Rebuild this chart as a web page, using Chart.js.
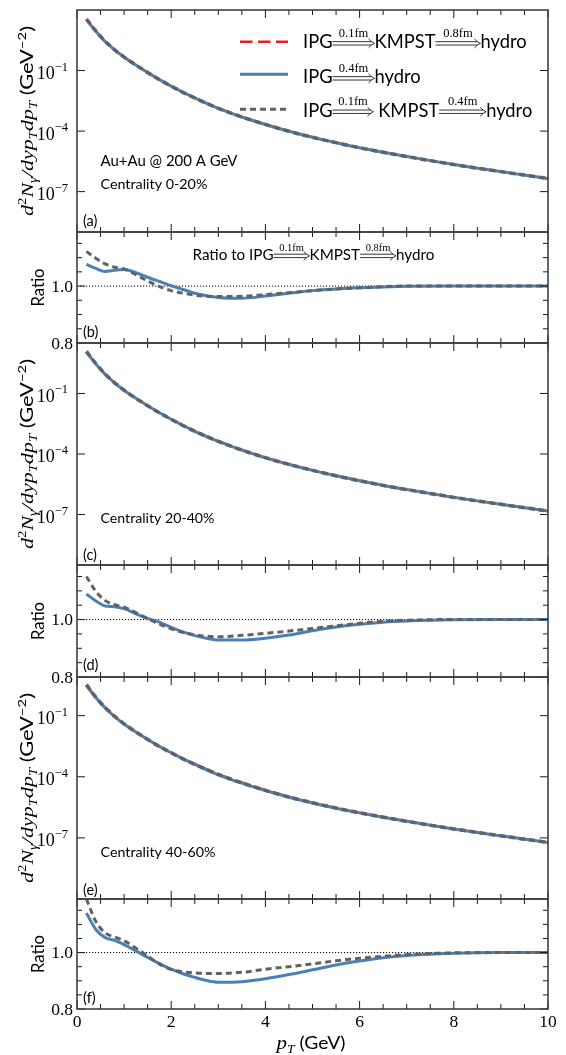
<!DOCTYPE html>
<html>
<head>
<meta charset="utf-8">
<script src="https://cdn.jsdelivr.net/npm/chart.js@4"></script>
<style>
  body { margin: 0; background: #fff; width: 566px; height: 1055px; position: relative; overflow: hidden; }
  canvas { position: absolute; left: 0; top: 0; }
</style>
</head>
<body>
<canvas id="pa" width="566" height="1055"></canvas>
<canvas id="pb" width="566" height="1055"></canvas>
<canvas id="pc" width="566" height="1055"></canvas>
<canvas id="pd" width="566" height="1055"></canvas>
<canvas id="pe" width="566" height="1055"></canvas>
<canvas id="pf" width="566" height="1055"></canvas>
<script>
// pT grid (GeV)
const pt = [0.2, 0.4, 0.6, 0.8, 1.0, 1.25, 1.5, 1.75, 2.0, 2.25, 2.5, 2.75, 3.0, 3.5, 4.0, 4.5, 5.0, 5.5, 6.0, 6.5, 7.0, 8.0, 9.0, 10.0];

// IPG -> KMPST(0.8fm) -> hydro spectra, d2N/dypTdpT (GeV^-2)
const spec020 = [3.2e1, 8.3, 2.6, 1.0, 4.4e-1, 1.8e-1, 7.8e-2, 3.5e-2, 1.7e-2, 8.5e-3, 4.5e-3, 2.45e-3, 1.4e-3, 5.2e-4, 2.2e-4, 1.0e-4, 5.0e-5, 2.7e-5, 1.5e-5, 8.9e-6, 5.5e-6, 2.2e-6, 9.8e-7, 4.5e-7];
const spec2040 = [1.05e1, 2.75, 8.5e-1, 3.2e-1, 1.38e-1, 5.6e-2, 2.45e-2, 1.12e-2, 5.4e-3, 2.7e-3, 1.4e-3, 7.8e-4, 4.5e-4, 1.66e-4, 6.9e-5, 3.2e-5, 1.6e-5, 8.5e-6, 4.8e-6, 2.8e-6, 1.74e-6, 7.1e-7, 3.2e-7, 1.48e-7];
const spec4060 = [2.8, 7.2e-1, 2.3e-1, 8.7e-2, 3.8e-2, 1.55e-2, 6.9e-3, 3.2e-3, 1.6e-3, 8.1e-4, 4.4e-4, 2.45e-4, 1.4e-4, 5.4e-5, 2.3e-5, 1.07e-5, 5.5e-6, 3.0e-6, 1.74e-6, 1.05e-6, 6.6e-7, 2.75e-7, 1.26e-7, 6.0e-8];

// ratios to IPG -> KMPST(0.8fm) -> hydro
const ratioHydro020 = [1.076, 1.062, 1.051, 1.056, 1.058, 1.047, 1.031, 1.016, 1.001, 0.988, 0.975, 0.966, 0.960, 0.957, 0.965, 0.975, 0.984, 0.990, 0.994, 0.997, 0.999, 1.0, 1.0, 1.0];
const ratioK04_020 = [1.122, 1.098, 1.078, 1.066, 1.060, 1.040, 1.018, 0.998, 0.984, 0.975, 0.968, 0.964, 0.963, 0.964, 0.970, 0.977, 0.984, 0.990, 0.994, 0.998, 1.0, 1.0, 1.0, 1.0];
const ratioHydro2040 = [1.089, 1.065, 1.047, 1.045, 1.038, 1.020, 1.004, 0.991, 0.973, 0.957, 0.944, 0.935, 0.929, 0.929, 0.935, 0.946, 0.961, 0.974, 0.984, 0.991, 0.995, 0.999, 1.0, 1.0];
const ratioK04_2040 = [1.150, 1.098, 1.066, 1.052, 1.043, 1.024, 1.003, 0.984, 0.968, 0.955, 0.947, 0.942, 0.940, 0.945, 0.952, 0.960, 0.969, 0.978, 0.987, 0.994, 0.998, 1.0, 1.0, 1.0];
const ratioHydro4060 = [1.140, 1.082, 1.053, 1.043, 1.028, 1.006, 0.983, 0.961, 0.941, 0.925, 0.912, 0.901, 0.895, 0.897, 0.907, 0.922, 0.939, 0.956, 0.970, 0.982, 0.990, 0.998, 1.0, 1.0];
const ratioK04_4060 = [1.190, 1.110, 1.070, 1.055, 1.042, 1.016, 0.988, 0.959, 0.940, 0.932, 0.928, 0.926, 0.926, 0.930, 0.941, 0.950, 0.960, 0.971, 0.980, 0.987, 0.993, 0.999, 1.0, 1.0];

// ticks
const xMajor = [0, 2, 4, 6, 8, 10];
const xMinor = [0.5, 1, 1.5, 2.5, 3, 3.5, 4.5, 5, 5.5, 6.5, 7, 7.5, 8.5, 9, 9.5];
const logTicks = [1e-7, 1e-4, 1e-1];
const logTickExp = ['\u22127', '\u22124', '\u22121'];
const ratioMajor = [0.8, 1.0];
const ratioMajorLabels = ['0.8', '1.0'];
const ratioMinor = [0.85, 0.9, 0.95, 1.05, 1.1, 1.15];

const W = 566, H = 1055;
const RED = '#ec1c24', BLUE = '#4a80b6', GRAY = '#626262';
const SANS = 'Lato, "DejaVu Sans", sans-serif';
const SERIF = '"Liberation Serif", "DejaVu Serif", serif';

const panels = [
  { id: 'pa', kind: 'spec', top: 10, bottom: 232, min: 1e-9, max: 1e2, spec: spec020, r1: ratioHydro020, r2: ratioK04_020, tag: '(a)', tagY: 226,
    notes: [['Au+Au @ 200 A GeV', 166, 137], ['Centrality 0-20%', 188.5, 107]] },
  { id: 'pb', kind: 'ratio', top: 232, bottom: 343, min: 0.8, max: 1.19, r1: ratioHydro020, r2: ratioK04_020, tag: '(b)', tagY: 336.5, ratioNote: true },
  { id: 'pc', kind: 'spec', top: 343, bottom: 565, min: 3.16e-10, max: 31.6, spec: spec2040, r1: ratioHydro2040, r2: ratioK04_2040, tag: '(c)', tagY: 560,
    notes: [['Centrality 20-40%', 522.7, 114]] },
  { id: 'pd', kind: 'ratio', top: 565, bottom: 677, min: 0.8, max: 1.19, r1: ratioHydro2040, r2: ratioK04_2040, tag: '(d)', tagY: 670 },
  { id: 'pe', kind: 'spec', top: 677, bottom: 899, min: 1e-10, max: 7.9, spec: spec4060, r1: ratioHydro4060, r2: ratioK04_4060, tag: '(e)', tagY: 895,
    notes: [['Centrality 40-60%', 856.5, 115]] },
  { id: 'pf', kind: 'ratio', top: 899, bottom: 1009, min: 0.8, max: 1.19, r1: ratioHydro4060, r2: ratioK04_4060, tag: '(f)', tagY: 1003.3, last: true }
];

function fitSize(ctx, text, family, width) {
  ctx.font = '100px ' + family;
  return 100 * width / ctx.measureText(text).width;
}

// draw pieces of text one after the other; optional rotation, stretched along the text to a length
function rich(ctx, parts, x, y, rot, center, fitLen) {
  ctx.save();
  ctx.translate(x, y);
  if (rot) ctx.rotate(-Math.PI / 2);
  let total = 0;
  for (const p of parts) { ctx.font = p.f; p.w = ctx.measureText(p.t).width; total += p.w; }
  if (fitLen) ctx.scale(fitLen / total, 1);
  let cx = center ? -total / 2 : 0;
  ctx.textAlign = 'left';
  ctx.textBaseline = 'alphabetic';
  ctx.fillStyle = '#000';
  for (const p of parts) { ctx.font = p.f; ctx.fillText(p.t, cx, p.dy || 0); cx += p.w; }
  ctx.restore();
  return total;
}

function dblArrow(ctx, x0, x1, y) {
  ctx.save();
  ctx.strokeStyle = '#000';
  ctx.lineWidth = 0.8;
  ctx.beginPath();
  ctx.moveTo(x0, y - 1.7); ctx.lineTo(x1 - 3, y - 1.7);
  ctx.moveTo(x0, y + 1.7); ctx.lineTo(x1 - 3, y + 1.7);
  ctx.stroke();
  ctx.beginPath();
  ctx.moveTo(x1 - 6, y - 4.5);
  ctx.quadraticCurveTo(x1 - 3, y - 1, x1, y);
  ctx.quadraticCurveTo(x1 - 3, y + 1, x1 - 6, y + 4.5);
  ctx.stroke();
  ctx.restore();
}

// segments: strings or {a: label, len}
function arrowLine(ctx, segs, x, base, size, lblSize) {
  ctx.save();
  ctx.fillStyle = '#000';
  ctx.textBaseline = 'alphabetic';
  ctx.textAlign = 'left';
  for (const s of segs) {
    if (typeof s === 'string') {
      ctx.font = size + 'px ' + SANS;
      ctx.fillText(s, x, base);
      x += ctx.measureText(s).width;
    } else {
      dblArrow(ctx, x, x + s.len, base - size * 0.27);
      ctx.font = lblSize + 'px ' + SERIF;
      ctx.textAlign = 'center';
      ctx.fillText(s.a, x + s.len / 2, base - size * 0.62);
      ctx.textAlign = 'left';
      x += s.len;
    }
  }
  ctx.restore();
  return x;
}

function decorate(chart, p) {
  const ctx = chart.ctx, a = chart.chartArea, xs = chart.scales.x, ys = chart.scales.y;
  ctx.save();
  // inward ticks
  ctx.strokeStyle = '#1a1a1a';
  ctx.lineWidth = 1;
  ctx.beginPath();
  const xt = (v, len) => {
    const px = xs.getPixelForValue(v);
    ctx.moveTo(px, a.bottom); ctx.lineTo(px, a.bottom - len);
    ctx.moveTo(px, a.top); ctx.lineTo(px, a.top + len);
  };
  const yt = (v, len) => {
    const py = ys.getPixelForValue(v);
    ctx.moveTo(a.left, py); ctx.lineTo(a.left + len, py);
    ctx.moveTo(a.right, py); ctx.lineTo(a.right - len, py);
  };
  xMajor.forEach(v => xt(v, 8));
  xMinor.forEach(v => xt(v, 5));
  if (p.kind === 'spec') {
    logTicks.forEach(v => yt(v, 8));
  } else {
    ratioMajor.forEach(v => yt(v, 8));
    ratioMinor.forEach(v => yt(v, 5));
  }
  ctx.stroke();
  // frame
  ctx.strokeStyle = '#404040';
  ctx.lineWidth = 1.6;
  ctx.strokeRect(a.left, a.top, a.right - a.left, a.bottom - a.top);

  ctx.fillStyle = '#000';
  const numSize = 17.5;
  // y tick labels
  if (p.kind === 'spec') {
    logTicks.forEach((v, i) => {
      const py = ys.getPixelForValue(v);
      ctx.font = '12.5px ' + SERIF;
      const ew = ctx.measureText(logTickExp[i]).width;
      ctx.textAlign = 'right';
      ctx.fillText(logTickExp[i], a.left - 9, py);
      ctx.font = '18px ' + SERIF;
      ctx.fillText('10', a.left - 9 - ew, py + 8.5);
    });
    // y title
    const c = (a.top + a.bottom) / 2;
    const it = 'italic 17px ' + SERIF, sm = 'italic 11.5px ' + SERIF;
    rich(ctx, [
      { t: 'd', f: it }, { t: '2', f: '11.5px ' + SERIF, dy: -7 }, { t: 'N', f: it }, { t: '\u03B3', f: sm, dy: 3.5 },
      { t: '/dyp', f: it }, { t: 'T', f: sm, dy: 3.5 }, { t: 'dp', f: it }, { t: 'T', f: sm, dy: 3.5 },
      { t: ' (GeV', f: '17px ' + SANS }, { t: '\u22122', f: '11.5px ' + SANS, dy: -7 }, { t: ')', f: '17px ' + SANS }
    ], 33, c, true, true, 190);
  } else {
    ratioMajor.forEach((v, i) => {
      const py = ys.getPixelForValue(v);
      ctx.font = numSize + 'px ' + SERIF;
      ctx.textAlign = 'right';
      ctx.fillText(ratioMajorLabels[i], a.left - 4, py + 5.8);
    });
    const c = (a.top + a.bottom) / 2;
    const rs = fitSize(ctx, 'Ratio', SANS, 38);
    ctx.save();
    ctx.translate(44, c);
    ctx.rotate(-Math.PI / 2);
    ctx.font = rs + 'px ' + SANS;
    ctx.textAlign = 'center';
    ctx.fillText('Ratio', 0, 0);
    ctx.restore();
  }
  // x tick labels on the bottom panel
  if (p.last) {
    ctx.font = numSize + 'px ' + SERIF;
    ctx.textAlign = 'center';
    xMajor.forEach(v => ctx.fillText(String(v), xs.getPixelForValue(v), a.bottom + 17.5));
    rich(ctx, [
      { t: 'p', f: 'italic 19px ' + SERIF }, { t: 'T', f: 'italic 12.5px ' + SERIF, dy: 3.5 },
      { t: ' (GeV)', f: '17.5px ' + SANS }
    ], 311, 1049.3, false, true, 69);
  }
  // panel tag
  ctx.textAlign = 'left';
  ctx.font = '14.5px ' + SANS;
  ctx.fillText(p.tag, 83, p.tagY);
  // notes
  (p.notes || []).forEach(n => {
    const s = fitSize(ctx, n[0], SANS, n[2]);
    ctx.font = s + 'px ' + SANS;
    ctx.textAlign = 'left';
    ctx.fillText(n[0], 100.5, n[1]);
  });
  // legend on panel (a)
  if (p.id === 'pa') {
    const size = fitSize(ctx, 'KMPST', SANS, 61);
    const rows = [
      { base: 48.3, ly: 41.7, color: RED, dash: [12.5, 5.5], w: 2.5,
        segs: ['IPG', { a: '0.1fm', len: 42 }, 'KMPST', { a: '0.8fm', len: 45 }, 'hydro'] },
      { base: 83.3, ly: 74.3, color: BLUE, dash: [], w: 3,
        segs: ['IPG', { a: '0.4fm', len: 42 }, 'hydro'] },
      { base: 116.7, ly: 109.3, color: GRAY, dash: [6, 4], w: 3,
        segs: ['IPG', { a: '0.1fm', len: 41 }, ' KMPST', { a: '0.4fm', len: 47 }, 'hydro'] }
    ];
    rows.forEach(r => {
      ctx.save();
      ctx.strokeStyle = r.color;
      ctx.lineWidth = r.w;
      ctx.setLineDash(r.dash);
      ctx.beginPath();
      ctx.moveTo(240, r.ly); ctx.lineTo(288, r.ly);
      ctx.stroke();
      ctx.restore();
      arrowLine(ctx, r.segs, 303, r.base, size, 12.5);
    });
  }
  if (p.ratioNote) {
    const size = fitSize(ctx, 'KMPST', SANS, 50.5);
    arrowLine(ctx, ['Ratio to IPG', { a: '0.1fm', len: 36 }, 'KMPST', { a: '0.8fm', len: 36 }, 'hydro'], 192.5, 260, size, 10.5);
  }
  ctx.restore();
}

function makeChart(p, idx) {
  const ds = [];
  if (p.kind === 'spec') {
    ds.push({ data: pt.map((x, i) => ({ x, y: p.spec[i] })), borderColor: RED, borderWidth: 2, borderDash: [12, 6], order: 3 });
    ds.push({ data: pt.map((x, i) => ({ x, y: p.spec[i] * p.r1[i] })), borderColor: BLUE, borderWidth: 3, order: 2 });
    ds.push({ data: pt.map((x, i) => ({ x, y: p.spec[i] * p.r2[i] })), borderColor: GRAY, borderWidth: 3.5, borderDash: [6, 4], order: 1 });
  } else {
    ds.push({ data: [{ x: 0, y: 1 }, { x: 10, y: 1 }], borderColor: '#000', borderWidth: 1, borderDash: [1.2, 1.8], order: 4 });
    ds.push({ data: pt.map((x, i) => ({ x, y: p.r1[i] })), borderColor: BLUE, borderWidth: 3, order: 2 });
    ds.push({ data: pt.map((x, i) => ({ x, y: p.r2[i] })), borderColor: GRAY, borderWidth: 3, borderDash: [6, 4], order: 1 });
  }
  new Chart(document.getElementById(p.id), {
    type: 'line',
    data: { datasets: ds },
    options: {
      responsive: false,
      animation: false,
      events: [],
      layout: { padding: { left: 77, right: 18, top: p.top, bottom: H - p.bottom } },
      elements: { point: { radius: 0 }, line: { cubicInterpolationMode: 'monotone', fill: false } },
      plugins: { legend: { display: false }, tooltip: { enabled: false } },
      scales: {
        x: { type: 'linear', min: 0, max: 10, display: false },
        y: { type: p.kind === 'spec' ? 'logarithmic' : 'linear', min: p.min, max: p.max, display: false }
      }
    },
    plugins: [{ id: 'deco' + idx, afterDraw: chart => decorate(chart, p) }]
  });
}

panels.forEach(makeChart);
</script>
</body>
</html>
